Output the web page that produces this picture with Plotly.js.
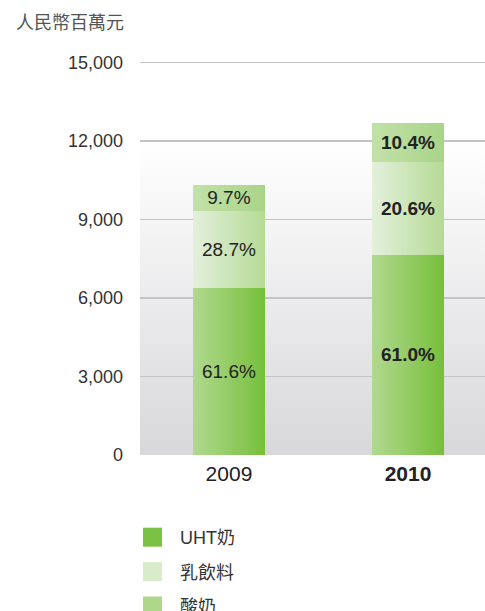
<!DOCTYPE html>
<html>
<head>
<meta charset="utf-8">
<script src="https://cdn.plot.ly/plotly-3.0.1.min.js"></script>
<style>
  html, body { margin: 0; padding: 0; background: #ffffff; }
  #chart { width: 485px; height: 611px; }
</style>
</head>
<body>
<div id="chart"></div>
<script>
// ---- data ----
const years = ['2009', '2010'];
const seriesNames = ['UHT奶', '乳飲料', '酸奶'];
const uhtValues = [6380, 7650];
const milkDrinkValues = [2960, 3560];
const yogurtValues = [990, 1490];
const uhtPct = ['61.6%', '61.0%'];
const milkDrinkPct = ['28.7%', '20.6%'];
const yogurtPct = ['9.7%', '10.4%'];
const yTicks = [0, 3000, 6000, 9000, 12000, 15000];
const yTickText = ['0', '3,000', '6,000', '9,000', '12,000', '15,000'];
const unitLabel = '人民幣百萬元';

// ---- styles ----
const FONT = 'Liberation Sans, Arial, Noto Sans CJK TC, sans-serif';
const legendColors = ['#7bc143', '#d9ecc9', '#afd78b'];
const barGradients = [
  ['#b0d98f', '#77bf3b'],
  ['#e3f0db', '#b5da95'],
  ['#c2e1a8', '#a9d488']
];
const boldLast = arr => arr.map((t, i) => i === arr.length - 1 ? '<b>' + t + '</b>' : t);

const valueSets = [uhtValues, milkDrinkValues, yogurtValues];
const pctSets = [uhtPct, milkDrinkPct, yogurtPct];

const traces = valueSets.map((vals, k) => ({
  type: 'bar',
  name: seriesNames[k],
  x: years,
  y: vals,
  text: boldLast(pctSets[k]),
  textposition: 'inside',
  insidetextanchor: 'middle',
  textangle: 0,
  constraintext: 'none',
  textfont: { family: FONT, size: 19, color: '#222222' },
  marker: { color: legendColors[k], line: { width: 0 } },
  width: 0.40,
  legendgroup: 'g' + k,
  hoverinfo: 'skip'
}));

const PLOT_H = 611 - 60 - 156;

const layout = {
  width: 485,
  height: 611,
  margin: { l: 140, r: 0, t: 60, b: 156, pad: 0, autoexpand: false },
  paper_bgcolor: '#ffffff',
  plot_bgcolor: '#ffffff',
  barmode: 'stack',
  font: { family: FONT, color: '#333333' },
  showlegend: true,
  legend: {
    orientation: 'v',
    traceorder: 'grouped',
    tracegroupgap: 8,
    xref: 'paper', yref: 'paper',
    x: (125 - 140) / 345, xanchor: 'left',
    y: -(519 - 455) / PLOT_H, yanchor: 'top',
    itemwidth: 45,
    font: { family: FONT, size: 18, color: '#333333' },
    bgcolor: 'rgba(0,0,0,0)',
    borderwidth: 0
  },
  xaxis: {
    type: 'category',
    range: [-0.497, 1.43],
    tickvals: years,
    ticktext: boldLast(years),
    tickfont: { family: FONT, size: 21, color: '#222222' },
    showgrid: false,
    zeroline: false,
    showline: false,
    ticks: '',
    ticklabelstandoff: 4,
    fixedrange: true
  },
  yaxis: {
    range: [0, 15100],
    tickvals: yTicks,
    ticktext: yTickText,
    tickfont: { family: FONT, size: 18, color: '#333333' },
    showgrid: true,
    gridcolor: '#c4c4c4',
    gridwidth: 1.5,
    zeroline: false,
    showline: false,
    ticks: '',
    ticklabelstandoff: 16,
    fixedrange: true
  },
  shapes: [{
    type: 'rect', layer: 'below',
    xref: 'paper', x0: 0, x1: 1,
    yref: 'y', y0: 0, y1: 12000,
    fillcolor: '#eeeeee',
    line: { width: 0 }
  }],
  annotations: [{
    text: unitLabel,
    xref: 'paper', yref: 'paper',
    x: (14 - 140) / 345, xanchor: 'left',
    y: 1 + (60 - 21) / PLOT_H, yanchor: 'middle',
    showarrow: false,
    font: { family: 'Noto Sans CJK TC, sans-serif', size: 18, color: '#555555' }
  }]
};

Plotly.newPlot('chart', traces, layout, { staticPlot: true, displayModeBar: false }).then(gd => {
  const svg = gd.querySelector('.main-svg');
  let defs = svg.querySelector('defs');
  const NS = 'http://www.w3.org/2000/svg';
  function addGrad(id, c1, c2, vertical) {
    const g = document.createElementNS(NS, 'linearGradient');
    g.setAttribute('id', id);
    g.setAttribute('x1', '0'); g.setAttribute('y1', '0');
    g.setAttribute('x2', vertical ? '0' : '1'); g.setAttribute('y2', vertical ? '1' : '0');
    [[0, c1], [1, c2]].forEach(([o, c]) => {
      const s = document.createElementNS(NS, 'stop');
      s.setAttribute('offset', o);
      s.setAttribute('stop-color', c);
      g.appendChild(s);
    });
    defs.appendChild(g);
  }
  addGrad('bgGrad', '#ffffff', '#d8d8db', true);
  barGradients.forEach((c, k) => addGrad('barGrad' + k, c[0], c[1], false));

  gd.querySelectorAll('.layer-below .shapelayer path').forEach(p => {
    p.style.fill = 'url(#bgGrad)';
    p.style.fillOpacity = 1;
  });
  gd.querySelectorAll('.barlayer .trace').forEach((t, k) => {
    t.querySelectorAll('.point path').forEach(p => { p.style.fill = 'url(#barGrad' + k + ')'; });
  });
  gd.querySelectorAll('.legend .traces .legendpoints path').forEach(p => {
    p.setAttribute('d', 'M9.5,9.5H-9.5V-9.5H9.5Z');
  });
});
</script>
</body>
</html>
